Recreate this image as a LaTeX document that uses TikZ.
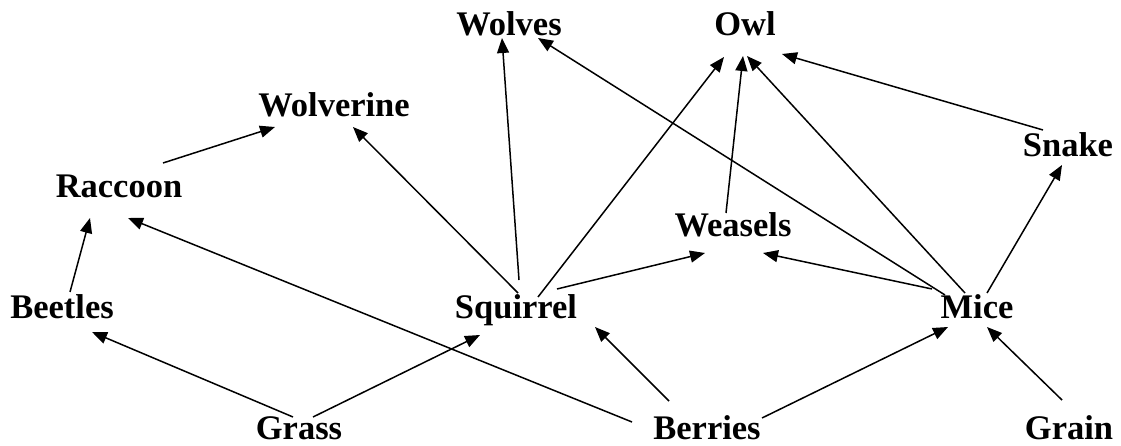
\documentclass[tikz,border=0pt]{standalone}
\usepackage{fontspec}
\setmainfont{Liberation Serif}
\usetikzlibrary{arrows.meta,calc}
\tikzset{
  lbl/.style={font=\fontsize{34.5}{40}\selectfont\bfseries, inner sep=0pt, anchor=base},
  feeds/.style={-{Triangle[length=15pt,width=12pt]}, line width=1.5pt}
}
\begin{document}
\begin{tikzpicture}[x=1pt,y=-1pt]
\useasboundingbox (0,0) rectangle (1121,446);
\node[lbl] (wolves) at (509,36) {Wolves};
\node[lbl] (owl) at (745,36) {Owl};
\node[lbl] (wolverine) at (334,117) {Wolverine};
\node[lbl] (snake) at (1068,157) {Snake};
\node[lbl] (raccoon) at (119,198) {Raccoon};
\node[lbl] (weasels) at (733,237) {Weasels};
\node[lbl] (beetles) at (62,318) {Beetles};
\node[lbl] (squirrel) at (516,318) {Squirrel};
\node[lbl] (mice) at (977,318) {Mice};
\node[lbl] (grass) at (299,439) {Grass};
\node[lbl] (berries) at (707,439) {Berries};
\node[lbl] (grain) at (1069,439) {Grain};

\draw[feeds] ($(grass.base)+(-6,-22)$) -- ($(beetles.base)+(30,14)$);
\draw[feeds] ($(grass.base)+(14,-22)$) -- ($(squirrel.base)+(-36,17)$);
\draw[feeds] ($(beetles.base)+(8,-26)$) -- ($(raccoon.base)+(-29,20)$);
\draw[feeds] ($(raccoon.base)+(44,-35)$) -- ($(wolverine.base)+(-59,10)$);
\draw[feeds] ($(berries.base)+(-75,-17)$) -- ($(raccoon.base)+(9,20)$);
\draw[feeds] ($(berries.base)+(-38,-38)$) -- ($(squirrel.base)+(79,9)$);
\draw[feeds] ($(berries.base)+(55,-21)$) -- ($(mice.base)+(-29,9)$);
\draw[feeds] ($(grain.base)+(-7,-39)$) -- ($(mice.base)+(10,9)$);
\draw[feeds] ($(squirrel.base)+(2,-25)$) -- ($(wolverine.base)+(19,10)$);
\draw[feeds] ($(squirrel.base)+(3,-38)$) -- ($(wolves.base)+(-7,2)$);
\draw[feeds] ($(squirrel.base)+(22,-21)$) -- ($(owl.base)+(-21,21)$);
\draw[feeds] ($(squirrel.base)+(41,-29)$) -- ($(weasels.base)+(-28,16)$);
\draw[feeds] ($(weasels.base)+(-7,-24)$) -- ($(owl.base)+(-2,20)$);
\draw[feeds] ($(mice.base)+(-45,-29)$) -- ($(weasels.base)+(30,16)$);
\draw[feeds] ($(mice.base)+(-32,-23)$) -- ($(wolves.base)+(29,2)$);
\draw[feeds] ($(mice.base)+(-12,-25)$) -- ($(owl.base)+(2,20)$);
\draw[feeds] ($(mice.base)+(10,-25)$) -- ($(snake.base)+(-6,8)$);
\draw[feeds] ($(snake.base)+(-25,-27)$) -- ($(owl.base)+(37,18)$);
\end{tikzpicture}
\end{document}
